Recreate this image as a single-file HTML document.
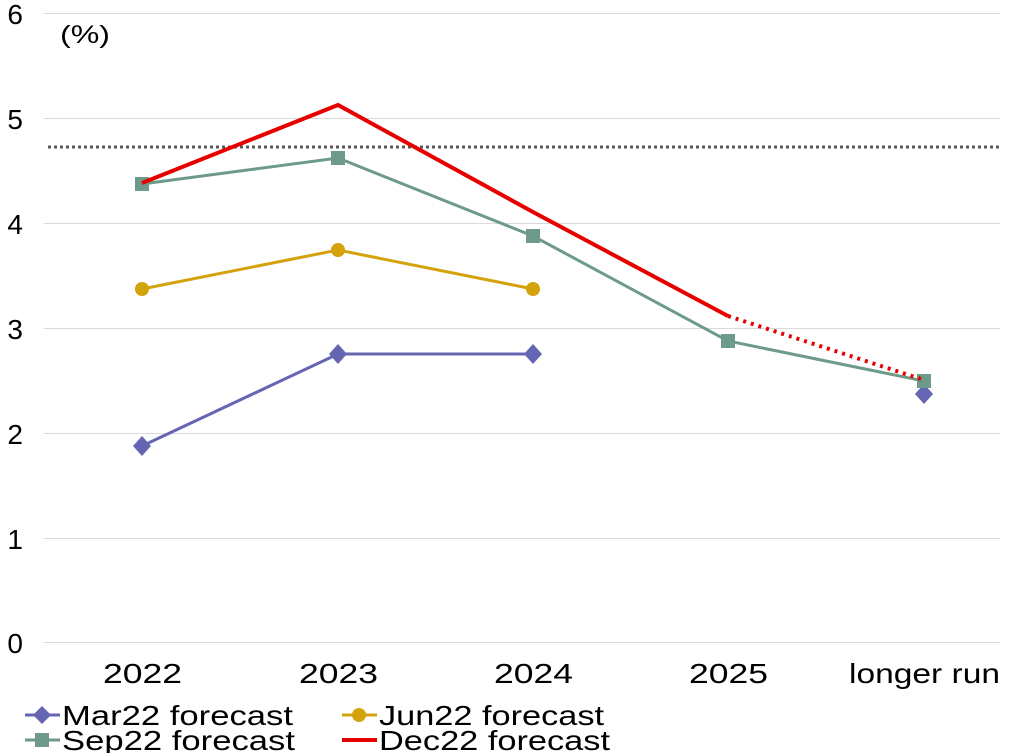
<!DOCTYPE html>
<html><head><meta charset="utf-8"><style>
html,body{margin:0;padding:0;background:#fff;}
svg{display:block;font-family:"Liberation Sans","DejaVu Sans",sans-serif;}
</style></head><body>
<svg width="1022" height="753" viewBox="0 0 1022 753">
<g stroke="#d9d9d9" stroke-width="1">
<line x1="44" y1="13.5" x2="1000" y2="13.5"/>
<line x1="44" y1="118.5" x2="1000" y2="118.5"/>
<line x1="44" y1="223.5" x2="1000" y2="223.5"/>
<line x1="44" y1="328.5" x2="1000" y2="328.5"/>
<line x1="44" y1="433.5" x2="1000" y2="433.5"/>
<line x1="44" y1="538.5" x2="1000" y2="538.5"/>
<line x1="44" y1="642.5" x2="1000" y2="642.5"/>
</g>
<g font-size="28" fill="#000" text-anchor="end">
<text x="23" y="24">6</text><text x="23" y="129">5</text><text x="23" y="234">4</text>
<text x="23" y="339">3</text><text x="23" y="444">2</text><text x="23" y="549">1</text><text x="23" y="653">0</text>
</g>
<text x="60" y="43" font-size="25" textLength="50" lengthAdjust="spacingAndGlyphs">(%)</text>
<g font-size="28">
<text x="103" y="683" textLength="79" lengthAdjust="spacingAndGlyphs">2022</text>
<text x="299" y="683" textLength="79" lengthAdjust="spacingAndGlyphs">2023</text>
<text x="494" y="683" textLength="79" lengthAdjust="spacingAndGlyphs">2024</text>
<text x="689" y="683" textLength="79" lengthAdjust="spacingAndGlyphs">2025</text>
<text x="849" y="683" textLength="151" lengthAdjust="spacingAndGlyphs">longer run</text>
</g>
<line x1="48" y1="147" x2="1000" y2="147" stroke="#595959" stroke-width="3" stroke-dasharray="3,3"/>
<polyline points="142,446 338,354 533,354" fill="none" stroke="#6466b4" stroke-width="3"/>
<g fill="#6466b4">
<polygon points="142,436 151,446 142,456 133,446"/><polygon points="338,344 347,354 338,364 329,354"/>
<polygon points="533,344 542,354 533,364 524,354"/><polygon points="924,384 933,394 924,404 915,394"/>
</g>
<polyline points="142,289 338,250 533,289" fill="none" stroke="#d4a20a" stroke-width="3"/>
<g fill="#d4a20a"><circle cx="142" cy="289" r="7"/><circle cx="338" cy="250" r="7"/><circle cx="533" cy="289" r="7"/></g>
<polyline points="142,184 338,158 533,236 728,341 924,381" fill="none" stroke="#6e9a8a" stroke-width="3"/>
<g fill="#6e9a8a">
<rect x="135" y="177" width="14" height="14"/><rect x="331" y="151" width="14" height="14"/>
<rect x="526" y="229" width="14" height="14"/><rect x="721" y="334" width="14" height="14"/>
<rect x="917" y="374" width="14" height="14"/>
</g>
<polyline points="142,183 338,105 533,212 728,316" fill="none" stroke="#e60000" stroke-width="4"/>
<line x1="728" y1="316" x2="924" y2="380" stroke="#e60000" stroke-width="4" stroke-dasharray="3,5"/>
<g font-size="28">
<line x1="25" y1="715" x2="60" y2="715" stroke="#6466b4" stroke-width="3"/>
<polygon points="42,706 51,715 42,724 33,715" fill="#6466b4"/>
<text x="62" y="725" textLength="231" lengthAdjust="spacingAndGlyphs">Mar22 forecast</text>
<line x1="342" y1="715" x2="377" y2="715" stroke="#d4a20a" stroke-width="3"/>
<circle cx="359" cy="715" r="7" fill="#d4a20a"/>
<text x="379" y="725" textLength="225" lengthAdjust="spacingAndGlyphs">Jun22 forecast</text>
<line x1="25" y1="740" x2="60" y2="740" stroke="#6e9a8a" stroke-width="3"/>
<rect x="35" y="733" width="14" height="14" fill="#6e9a8a"/>
<text x="62" y="750" textLength="233" lengthAdjust="spacingAndGlyphs">Sep22 forecast</text>
<line x1="342" y1="740" x2="377" y2="740" stroke="#e60000" stroke-width="4"/>
<text x="379" y="750" textLength="231" lengthAdjust="spacingAndGlyphs">Dec22 forecast</text>
</g>
</svg>
</body></html>
